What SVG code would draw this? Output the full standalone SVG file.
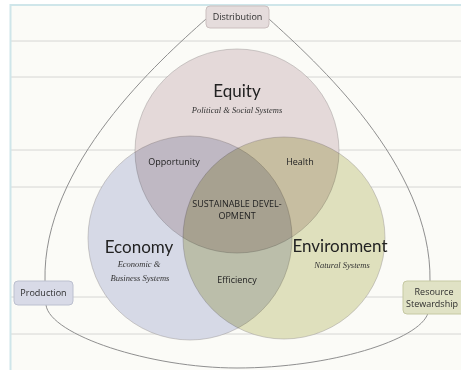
<svg xmlns="http://www.w3.org/2000/svg" width="461" height="370" viewBox="0 0 461 370">
  <style>
    .rule { stroke: #d6d6d4; stroke-width: 1; }
    .frame { stroke: #cfe6ea; stroke-width: 2; fill: none; }
    .loop { fill: none; stroke: #8f8f8f; stroke-width: 1; }
    .base { fill: #ffffff; }
    .disc { mix-blend-mode: multiply; stroke: #9a9494; stroke-opacity: 0.45; stroke-width: 1; }
    .title { font-family: Lato, "Open Sans", sans-serif; font-size: 17px; fill: #222222; text-anchor: middle; }
    .sub { font-family: "Liberation Serif", serif; font-style: italic; font-size: 8.5px; fill: #333333; text-anchor: middle; }
    .lap { font-family: "Open Sans", "Noto Sans", sans-serif; font-size: 9px; fill: #222222; text-anchor: middle; }
    .tag { font-family: "Open Sans", "Noto Sans", sans-serif; font-size: 9px; fill: #2e2e2e; text-anchor: middle; }
  </style>

  <!-- page -->
  <rect x="0" y="0" width="461" height="370" fill="#ffffff"/>
  <rect x="10" y="5" width="451" height="365" fill="#fbfbf7"/>
  <g id="ruling">
    <line class="rule" x1="11" y1="41" x2="461" y2="41"/>
    <line class="rule" x1="11" y1="77" x2="461" y2="77"/>
    <line class="rule" x1="11" y1="150" x2="461" y2="150"/>
    <line class="rule" x1="11" y1="187" x2="461" y2="187"/>
    <line class="rule" x1="11" y1="297" x2="461" y2="297"/>
    <line class="rule" x1="11" y1="334" x2="461" y2="334"/>
  </g>
  <path class="frame" d="M10.5 370 V5 H461"/>

  <!-- outer loop linking the three outcomes -->
  <g id="connectors">
    <path class="loop" d="M206 19 C160 60 42 165 45 281"/>
    <path class="loop" d="M46 305 C50 335 150 368 237 368 C330 368 420 340 428 313"/>
    <path class="loop" d="M269 19 C314 60 432 165 430 281"/>
  </g>

  <!-- opaque base so the ruling does not show through the discs -->
  <g id="disc-base">
    <circle class="base" cx="237" cy="151" r="102"/>
    <circle class="base" cx="190" cy="238" r="102"/>
    <circle class="base" cx="284" cy="238" r="101"/>
  </g>

  <g id="equity">
    <circle class="disc" cx="237" cy="151" r="102" fill="#e4d9d9"/>
  </g>
  <g id="economy">
    <circle class="disc" cx="190" cy="238" r="102" fill="#d6d9e6"/>
  </g>
  <g id="environment">
    <circle class="disc" cx="284" cy="238" r="101" fill="#dfe0bd"/>
  </g>

  <g id="equity-label">
    <text class="title" x="237" y="97">Equity</text>
    <text class="sub" x="237" y="113">Political &amp; Social Systems</text>
  </g>
  <g id="economy-label">
    <text class="title" x="139" y="253">Economy</text>
    <text class="sub" x="139" y="267">Economic &amp;</text>
    <text class="sub" x="140" y="281">Business Systems</text>
  </g>
  <g id="environment-label">
    <text class="title" x="340" y="252">Environment</text>
    <text class="sub" x="342" y="268">Natural Systems</text>
  </g>

  <g id="opportunity"><text class="lap" x="174" y="165">Opportunity</text></g>
  <g id="health"><text class="lap" x="300" y="165">Health</text></g>
  <g id="sustainable-development">
    <text class="lap" x="237" y="207" font-size="8.5">SUSTAINABLE DEVEL-</text>
    <text class="lap" x="237" y="219" font-size="8.5">OPMENT</text>
  </g>
  <g id="efficiency"><text class="lap" x="237" y="283">Efficiency</text></g>

  <g id="distribution">
    <rect x="206" y="6" width="63" height="22" rx="4" fill="#e5dcdc" stroke="#cbbfbf"/>
    <text class="tag" x="237.5" y="20">Distribution</text>
  </g>
  <g id="production">
    <rect x="14" y="281" width="59" height="24" rx="4" fill="#d8dae7" stroke="#bcc0cf"/>
    <text class="tag" x="43.5" y="296">Production</text>
  </g>
  <g id="resource-stewardship">
    <rect x="403" y="281" width="70" height="33" rx="4" fill="#e0e2c5" stroke="#c6c9a3"/>
    <text class="tag" x="434" y="294.5" font-size="8.5">Resource</text>
    <text class="tag" x="432" y="306.5" font-size="8.5">Stewardship</text>
  </g>
</svg>
